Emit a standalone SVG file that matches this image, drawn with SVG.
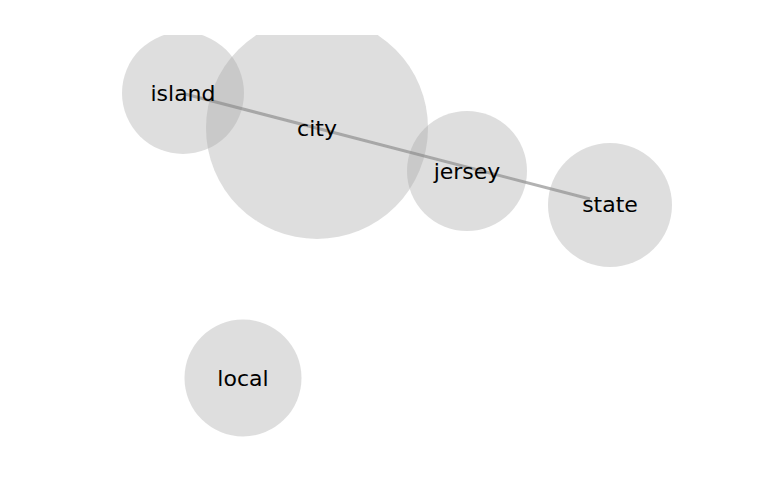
<svg xmlns="http://www.w3.org/2000/svg" width="769" height="500" viewBox="0 0 769 500">
<style>
.node circle{fill:#a6a6a6;fill-opacity:0.37}
.node text{font-family:"DejaVu Sans",sans-serif;font-size:22px;fill:#000;text-anchor:middle}
.edge{stroke:#888;stroke-opacity:0.65;stroke-width:3;fill:none}
</style>
<defs><clipPath id="clip"><rect x="0" y="35" width="769" height="402"/></clipPath></defs>
<rect width="769" height="500" fill="#fff"/>
<g clip-path="url(#clip)">
<g id="node-island" class="node"><circle cx="183" cy="93" r="61"/></g>
<g id="node-city" class="node"><circle cx="317" cy="128" r="111"/></g>
<g id="node-jersey" class="node"><circle cx="467" cy="171" r="60"/></g>
<g id="node-state" class="node"><circle cx="610" cy="205" r="62"/></g>
<g id="node-local" class="node"><circle cx="243" cy="378" r="58.5"/></g>
<g id="connectors"><line class="edge" x1="185" y1="94" x2="590" y2="199"/></g>
<g class="node"><text x="183" y="100.5">island</text>
<text x="317" y="135.5">city</text>
<text x="467" y="178.5">jersey</text>
<text x="610" y="211.5">state</text>
<text x="243" y="385.5">local</text></g>
</g>
</svg>
